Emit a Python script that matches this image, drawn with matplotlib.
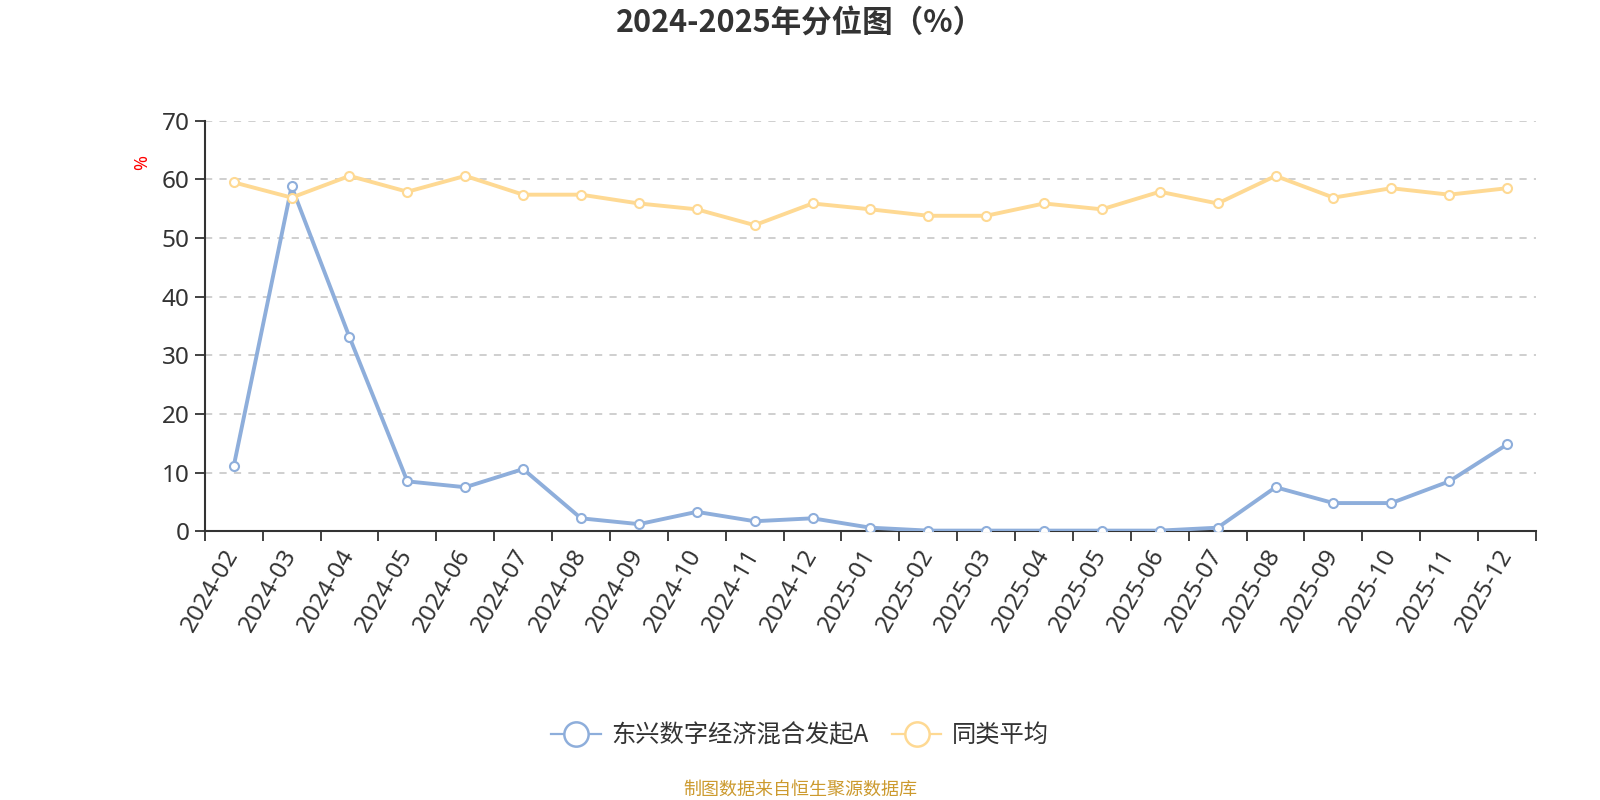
import numpy as np
import matplotlib
matplotlib.use("Agg")
import matplotlib.pyplot as plt
from matplotlib.lines import Line2D

plt.rcParams['font.family'] = ['Noto Sans', 'Noto Sans CJK SC', 'DejaVu Sans']

# data
months = ["2024-02", "2024-03", "2024-04", "2024-05", "2024-06", "2024-07",
          "2024-08", "2024-09", "2024-10", "2024-11", "2024-12", "2025-01",
          "2025-02", "2025-03", "2025-04", "2025-05", "2025-06", "2025-07",
          "2025-08", "2025-09", "2025-10", "2025-11", "2025-12"]
fund = [11.1, 58.8, 33.1, 8.5, 7.5, 10.6, 2.2, 1.2, 3.3, 1.7, 2.2, 0.6,
        0.1, 0.1, 0.1, 0.1, 0.1, 0.6, 7.5, 4.8, 4.8, 8.5, 14.8]
peer_avg = [59.5, 56.9, 60.6, 57.9, 60.6, 57.4, 57.4, 55.9, 54.9, 52.2, 55.9, 54.9,
            53.8, 53.8, 55.9, 54.9, 57.9, 55.9, 60.6, 56.9, 58.5, 57.4, 58.5]
fund_name = "东兴数字经济混合发起A"
peer_name = "同类平均"
yticks = [0, 10, 20, 30, 40, 50, 60, 70]

blue = "#8EAEDB"
yellow = "#FED993"
dark = "#333333"
cjk = ['Noto Sans CJK SC', 'DejaVu Sans']

fig = plt.figure(figsize=(16, 8), dpi=100)
ax = fig.add_axes([0.128, 0.336, 0.832, 0.513])

x = np.arange(len(months))
ax.plot(x, fund, color=blue, lw=2.8, marker="o", ms=6.5,
        mfc="white", mec=blue, mew=1.5, zorder=3)
ax.plot(x, peer_avg, color=yellow, lw=2.8, marker="o", ms=6.5,
        mfc="white", mec=yellow, mew=1.5, zorder=3)

ax.set_xlim(-0.5, len(months) - 0.5)
ax.set_ylim(0, 70)

# category labels at centres, tick marks at band boundaries
ax.set_xticks(x)
ax.set_xticklabels(months, rotation=60, ha="right", va="center",
                   rotation_mode="anchor", fontsize=17.5, color=dark)
ax.tick_params(axis="x", which="major", length=0, pad=14)
ax.set_xticks(np.arange(-0.5, len(months), 1), minor=True)
ax.tick_params(axis="x", which="minor", length=7, width=1.3, color=dark)

ax.set_yticks(yticks)
ax.set_yticklabels([str(v) for v in yticks], fontsize=17.5, color=dark)
ax.tick_params(axis="y", length=7, width=1.3, color=dark, pad=4)

for v in yticks[1:]:
    ax.axhline(v, color="#cccccc", lw=1.3, ls=(0, (4, 4)), zorder=1)

for s in ["top", "right"]:
    ax.spines[s].set_visible(False)
ax.spines["left"].set_color(dark)
ax.spines["bottom"].set_color(dark)
ax.spines["left"].set_linewidth(1.5)
ax.spines["bottom"].set_linewidth(1.5)

fig.text(0.089, 0.7975, "%", color="red", fontsize=13, rotation=90,
         ha="center", va="center")

fig.text(0.5, 0.972, "2024-2025年分位图（%）", fontsize=22, fontweight="bold",
         color=dark, ha="center", va="center", family=cjk)

handles = [
    Line2D([], [], color=blue, lw=1.6, marker="o", ms=17.5, mfc="white",
           mec=blue, mew=1.8),
    Line2D([], [], color=yellow, lw=1.6, marker="o", ms=17.5, mfc="white",
           mec=yellow, mew=1.8),
]
fig.legend(handles, [fund_name, peer_name], loc="center",
           bbox_to_anchor=(0.5, 0.081), ncol=2, frameon=False,
           prop={'family': cjk, 'size': 17.5}, handlelength=2.05,
           columnspacing=0.95, handletextpad=0.42, labelcolor=dark)

fig.text(0.5, 0.013, "制图数据来自恒生聚源数据库", fontsize=13, color="#CC9A2E",
         ha="center", va="center", family=cjk)

fig.savefig("out.png", dpi=100, facecolor="white")
